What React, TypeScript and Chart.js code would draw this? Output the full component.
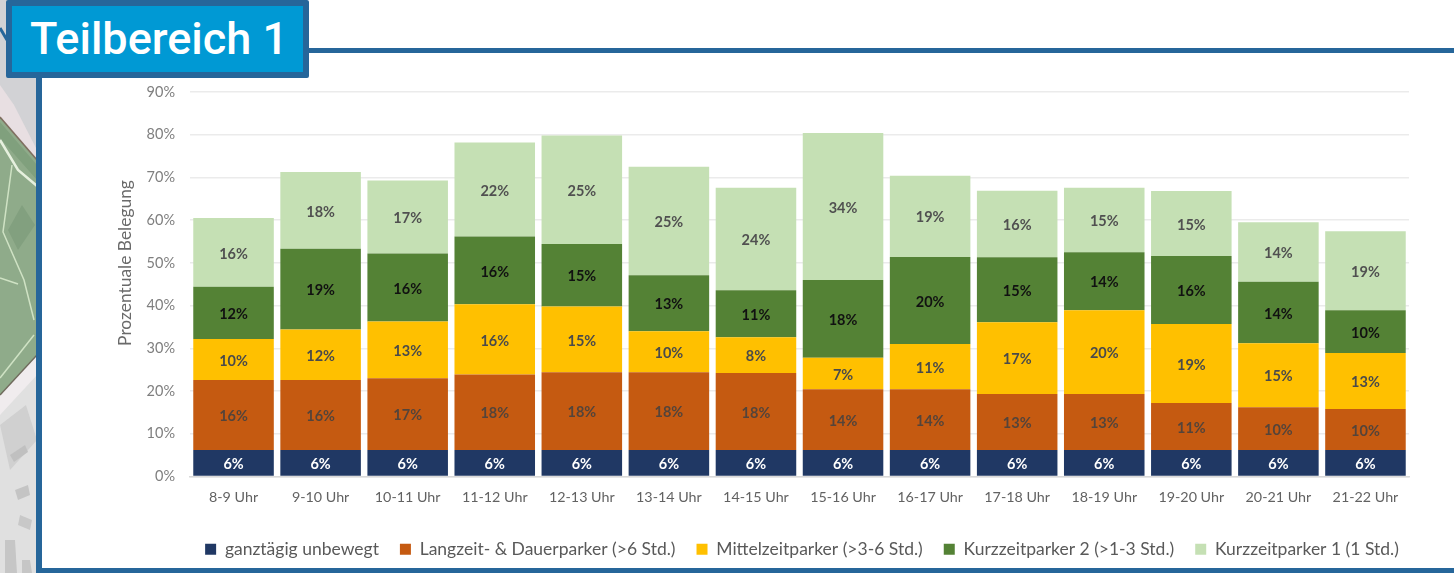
import React, { useEffect, useRef } from "react";
import { Chart, registerables } from "chart.js";

Chart.register(...registerables);

const hours = ["8-9 Uhr","9-10 Uhr","10-11 Uhr","11-12 Uhr","12-13 Uhr","13-14 Uhr","14-15 Uhr","15-16 Uhr","16-17 Uhr","17-18 Uhr","18-19 Uhr","19-20 Uhr","20-21 Uhr","21-22 Uhr"];
const ganztaegig = [6.2,6.2,6.2,6.2,6.2,6.2,6.2,6.2,6.2,6.2,6.2,6.2,6.2,6.2];
const langzeit = [16.4,16.4,16.8,17.7,18.2,18.2,18,14.2,14.2,13.1,13.1,11,10,9.6];
const mittelzeit = [9.6,11.8,13.3,16.4,15.4,9.6,8.4,7.4,10.6,16.8,19.6,18.5,15,13.1];
const kurzzeit2 = [12.2,18.9,15.9,15.9,14.6,13.1,11,18.2,20.4,15.2,13.6,15.9,14.4,10];
const kurzzeit1 = [16.1,18,17.1,22,25.4,25.4,24,34.4,19,15.6,15.1,15.2,13.9,18.5];
const seriesNames = ["ganztägig unbewegt","Langzeit- & Dauerparker (>6 Std.)","Mittelzeitparker (>3-6 Std.)","Kurzzeitparker 2 (>1-3 Std.)","Kurzzeitparker 1 (1 Std.)"];
const seriesColors = ["#203864","#c55a11","#ffc000","#548235","#c5e0b4"];
const labelColors = ["#ffffff","#54443a","#4a4a4a","#111111","#505050"];
const seriesValues = [ganztaegig, langzeit, mittelzeit, kurzzeit2, kurzzeit1];
const yTitle = "Prozentuale Belegung";
const heading = "Teilbereich 1";

const FONT = "Lato, Carlito, sans-serif";
const BLUE = "#26669a";

const barLabels = {
  id: "barLabels",
  afterLayout(chart: any) {
    chart.legend.left += 76.5;
    chart.legend.right += 76.5;
  },
  afterDatasetsDraw(chart: any) {
    const { ctx } = chart;
    ctx.save();
    ctx.font = `bold 14.5px ${FONT}`;
    ctx.textAlign = "center";
    ctx.textBaseline = "middle";
    chart.data.datasets.forEach((ds: any, i: number) => {
      ctx.fillStyle = labelColors[i];
      chart.getDatasetMeta(i).data.forEach((bar: any, j: number) => {
        ctx.fillText(`${Math.round(ds.data[j])}%`, bar.x, (bar.y + bar.base) / 2 + 1.5);
      });
    });
    ctx.restore();
    ctx.save();
    ctx.translate(83, 210);
    ctx.rotate(-Math.PI / 2);
    ctx.font = `17.4px ${FONT}`;
    ctx.fillStyle = "#6a6a6a";
    ctx.textAlign = "center";
    ctx.textBaseline = "middle";
    ctx.fillText(yTitle, 0, 0);
    ctx.restore();
  },
};

function MapStrip() {
  return (
    <svg width={37} height={573} style={{ position: "absolute", left: 0, top: 0 }}>
      <rect x={0} y={0} width={37} height={573} fill="#e0e0e0" />
      <polygon points="0,0 37,0 37,160 0,117" fill="#d2d2d5" />
      <polygon points="0,85 14,105 37,150 37,162 0,118" fill="#e8dfe2" />
      <polygon points="0,117 37,160 37,355 0,395" fill="#8fab8a" />
      <polyline points="0,117 37,160" stroke="#7f6f60" strokeWidth={1.5} fill="none" />
      <polygon points="0,395 37,355 37,375 0,415" fill="#f0ecee" />
      <polyline points="0,395 37,355" stroke="#6f6a5c" strokeWidth={1.5} fill="none" />
      <polygon points="0,122 37,165 37,180 0,138" fill="#80a07d" />
      <polyline points="0,140 18,170 37,186" stroke="#e6f0de" strokeWidth={2.5} fill="none" />
      <polyline points="12,165 3,232 24,280 34,320" stroke="#cfe2c4" strokeWidth={1.5} fill="none" />
      <polyline points="34,335 0,378" stroke="#cfe2c4" strokeWidth={1.5} fill="none" />
      <polyline points="0,278 18,284" stroke="#cfe2c4" strokeWidth={1.5} fill="none" />
      <polygon points="22,205 35,225 18,250 8,230" fill="#82a07f" />
      <polygon points="0,425 26,405 37,440 10,470" fill="#d0d0d0" />
      <polygon points="5,540 15,540 17,573 5,573" fill="#c6c6c6" />
      <polygon points="22,560 30,560 32,573 22,573" fill="#c6c6c6" />
      <polygon points="10,455 25,445 28,452 14,462" fill="#c0c0c0" />
      <polygon points="15,490 28,485 30,495 18,500" fill="#c4c4c4" />
      <polygon points="20,515 32,520 30,530 18,525" fill="#c8c8c8" />
      <line x1={0} y1={28} x2={7} y2={40} stroke={BLUE} strokeWidth={3} />
    </svg>
  );
}

export default function App() {
  const ref = useRef<HTMLCanvasElement>(null);
  useEffect(() => {
    document.body.style.margin = "0";
    document.body.style.background = "#ffffff";
    const chart = new Chart(ref.current!, {
      type: "bar",
      data: {
        labels: hours,
        datasets: seriesValues.map((data, i) => ({
          label: seriesNames[i],
          data,
          backgroundColor: seriesColors[i],
          categoryPercentage: 1,
          barPercentage: 0.925,
          stack: "s",
        })),
      },
      options: {
        animation: false,
        responsive: false,
        layout: { padding: { top: 39, right: 45, bottom: 0, left: 0 } },
        plugins: {
          tooltip: { enabled: false },
          legend: {
            position: "bottom",
            labels: {
              boxWidth: 11,
              boxHeight: 11,
              padding: 21,
              color: "#595959",
              font: { family: FONT, size: 17.5 },
            },
          },
        },
        scales: {
          x: {
            stacked: true,
            grid: { display: false, drawTicks: false },
            border: { color: "#d9d9d9", width: 1.5 },
            ticks: { color: "#626262", font: { family: FONT, size: 14.3 }, padding: 12.5, maxRotation: 0, autoSkip: false },
            afterFit: (s: any) => { s.height = 43; },
          },
          y: {
            stacked: true,
            min: 0,
            max: 90,
            grid: { color: "#ebebeb", lineWidth: 1.5, drawTicks: false },
            border: { display: false },
            ticks: {
              stepSize: 10,
              padding: 15,
              color: "#7f7f7f",
              font: { family: FONT, size: 14.5 },
              callback: (v: any) => `${v}%`,
            },
            afterFit: (s: any) => { s.width = 148; },
          },
        },
      },
      plugins: [barLabels],
    } as any);
    return () => chart.destroy();
  }, []);

  return (
    <div style={{ position: "relative", width: 1454, height: 573, overflow: "hidden", background: "#fff" }}>
      <MapStrip />
      <canvas ref={ref} width={1412} height={515} style={{ position: "absolute", left: 42, top: 53, filter: "blur(0.4px)" }} />
      <div style={{ position: "absolute", left: 36, top: 60, width: 6, height: 513, background: BLUE }} />
      <div style={{ position: "absolute", left: 36, top: 568, width: 1418, height: 5, background: BLUE }} />
      <div style={{ position: "absolute", left: 300, top: 48, width: 1154, height: 5, background: BLUE }} />
      <div style={{ position: "absolute", left: 6, top: 0, width: 291, height: 66, background: "#0099d4", border: `6px solid ${BLUE}`, borderRadius: 2, color: "#fff", fontFamily: "Roboto, sans-serif", fontSize: 45, fontWeight: 500, lineHeight: "66px", boxSizing: "content-box" }}>
        <span style={{ position: "absolute", left: 18, top: 0, whiteSpace: "nowrap" }}>{heading}</span>
      </div>
    </div>
  );
}
